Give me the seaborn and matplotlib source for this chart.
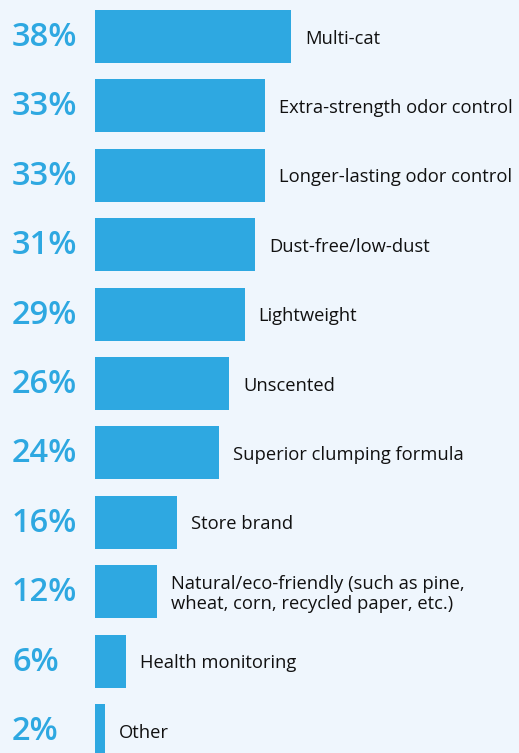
import matplotlib
matplotlib.use("Agg")
import matplotlib.pyplot as plt
import seaborn as sns
import pandas as pd

categories = ["Multi-cat", "Extra-strength odor control", "Longer-lasting odor control",
              "Dust-free/low-dust", "Lightweight", "Unscented", "Superior clumping formula",
              "Store brand", "Natural/eco-friendly (such as pine,\nwheat, corn, recycled paper, etc.)",
              "Health monitoring", "Other"]
values = [38, 33, 33, 31, 29, 26, 24, 16, 12, 6, 2]
pct_labels = ["38%", "33%", "33%", "31%", "29%", "26%", "24%", "16%", "12%", "6%", "2%"]

BG = "#eff6fd"
BAR = "#2ea8e1"

sns.set_theme(style="white")
plt.rcParams['font.family'] = ['Open Sans', 'DejaVu Sans']

df = pd.DataFrame({"cat": categories, "val": values})

fig = plt.figure(figsize=(5.19, 7.53), dpi=100, facecolor=BG)
ax = fig.add_axes([0, 0, 1, 1])
ax.set_facecolor(BG)
sns.barplot(data=df, x="val", y="cat", order=categories, color=BAR, width=0.763,
            saturation=1, linewidth=0, edgecolor=BAR, ax=ax)
ax.set_xlim(-18.4, 82.2)
ax.set_ylim(10.324, -0.526)
ax.axis("off")

for i, (v, lab, pl) in enumerate(zip(values, categories, pct_labels)):
    ax.annotate(lab, xy=(v, i), xytext=(14, -2), textcoords="offset pixels",
                ha="left", va="center", fontsize=13.2, color="#111111", linespacing=1.15)
    ax.annotate(pl, xy=(0, i), xycoords=("figure pixels", "data"),
                xytext=(12, -1), textcoords="offset pixels",
                ha="left", va="center", fontsize=23.5, fontweight="semibold", color=BAR)

fig.savefig("out.png", dpi=100, facecolor=BG)
